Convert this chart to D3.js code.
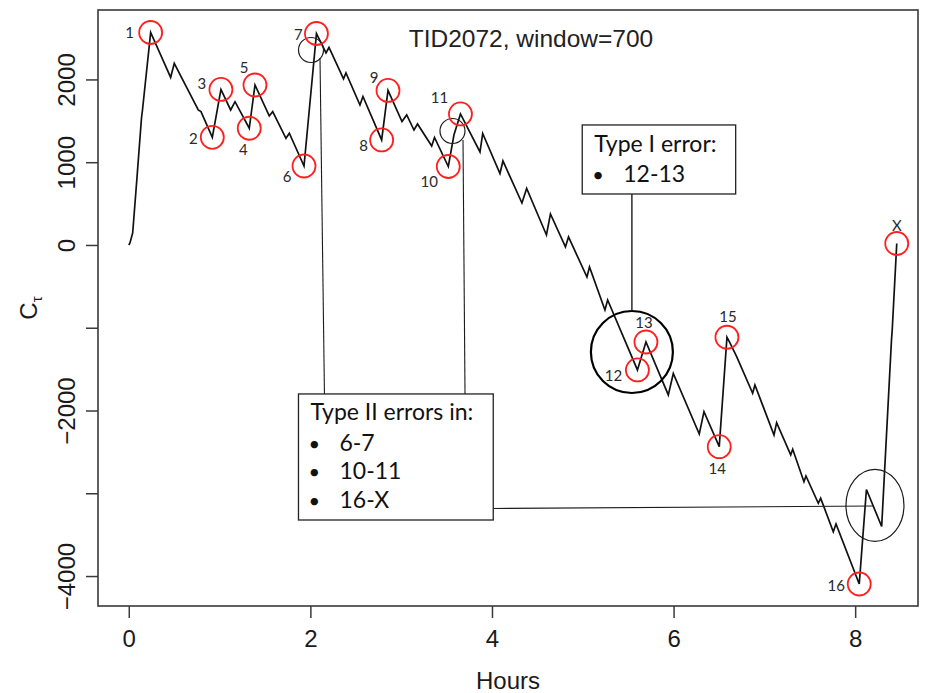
<!DOCTYPE html>
<html>
<head>
<meta charset="utf-8">
<script src="https://cdn.jsdelivr.net/npm/d3@7"></script>
<style>
  body { margin: 0; background: #fff; }
  svg { display: block; }
</style>
</head>
<body>
<svg id="chart" width="926" height="693"></svg>
<script>
// C_tau series for TID2072 (window = 700), sampled at its turning points
const hours = [
  0, 0.013, 0.043, 0.09, 0.14, 0.151, 0.241,
  0.461, 0.501, 0.765, 0.795, 0.92, 1.015, 1.122, 1.17, 1.327, 1.39,
  1.547, 1.585, 1.731, 1.768, 1.93, 2.067, 2.172, 2.205, 2.365, 2.392,
  2.546, 2.579, 2.785, 2.855, 3.009, 3.061, 3.141, 3.18, 3.336, 3.367,
  3.519, 3.581, 3.653, 3.868, 3.898, 4.088, 4.121, 4.33, 4.382, 4.6,
  4.644, 4.809, 4.843, 5.046, 5.074, 5.244, 5.274, 5.602, 5.696, 5.942,
  5.997, 6.283, 6.335, 6.503, 6.588, 6.621, 6.695, 6.871, 6.896, 7.106,
  7.135, 7.29, 7.312, 7.436, 7.458, 7.594, 7.62, 7.759, 7.789, 8.045,
  8.124, 8.292, 8.4, 8.408, 8.458
];
const ctau = [
  0, 24, 145, 809, 1534, 1631, 2567,
  2024, 2193, 1631, 1611, 1301, 1879, 1631, 1731, 1410, 1933,
  1559, 1611, 1289, 1350, 954, 2555, 2320, 2386, 2006, 2078,
  1691, 1794, 1269, 1867, 1492, 1571, 1389, 1462, 1196, 1299,
  948, 1329, 1583, 1124, 1347, 864, 1015, 507, 683, 121,
  375, -24, 97, -387, -266, -785, -665, -1510, -1172, -1812,
  -1553, -2284, -2014, -2437, -1115, -1184, -1350, -1792, -1691, -2296,
  -2147, -2537, -2468, -2860, -2791, -3121, -3060, -3464, -3371, -4096,
  -2954, -3401, -1148, -1027, 18
];

// numbered turning points (index into the series) and their names
const turnIndex  = [6, 11, 12, 15, 16, 21, 22, 29, 30, 37, 39, 54, 55, 60, 61, 76, 81];
const turnLabels = ["1","2","3","4","5","6","7","8","9","10","11","12","13","14","15","16","X"];

const xTicks = [0, 2, 4, 6, 8];
const yTicks = [2000, 1000, 0, -1000, -2000, -3000, -4000];
const yTickLabels = ["2000", "1000", "0", "", "\u22122000", "", "\u22124000"];

const titleText = "TID2072, window=700";
const typeOneLines = ["Type I error:", "12-13"];
const typeTwoLines = ["Type II errors in:", "6-7", "10-11", "16-X"];

// ---- layout ----
const W = 926, H = 693;
const plot = { left: 98, right: 918, top: 10, bottom: 606 };

const x = d3.scaleLinear().domain([-0.339, 8.692]).range([plot.left, plot.right]);
const y = d3.scaleLinear().domain([-4362, 2839]).range([plot.bottom, plot.top]);

// label offsets (px) around each numbered point
const labelOffset = {
  "1": [-21, 0], "2": [-19, 1], "3": [-19, -6], "4": [-6, 21], "5": [-11, -17],
  "6": [-17, 11], "7": [-18, 1], "8": [-18, 6], "9": [-14, -13], "10": [-19, 15],
  "11": [-21, -16], "12": [-24, 6], "13": [-2, -19], "14": [-2, 22], "15": [1, -21],
  "16": [-23, 2], "X": [0, -18]
};

const svg = d3.select("#chart");
const axisFont = "'Liberation Sans', Arial, Helvetica, sans-serif";
const noteFont = "Lato, 'Open Sans', sans-serif";
const frameColor = "#3a3a3a";

// ---- axes ----
const xAxis = svg.append("g")
  .attr("transform", `translate(0,${plot.bottom})`)
  .call(d3.axisBottom(x).tickValues(xTicks).tickSize(12).tickPadding(12).tickFormat(d3.format("d")));
xAxis.select(".domain").remove();
xAxis.selectAll("line").attr("stroke", frameColor).attr("stroke-width", 1.5);
xAxis.selectAll("text")
  .attr("font-family", axisFont).attr("font-size", 24).attr("fill", "#1a1a1a");

const yAxis = svg.append("g")
  .attr("transform", `translate(${plot.left},0)`)
  .call(d3.axisLeft(y).tickValues(yTicks).tickSize(12).tickFormat((d, i) => yTickLabels[i]));
yAxis.select(".domain").remove();
yAxis.selectAll("line").attr("stroke", frameColor).attr("stroke-width", 1.5);
yAxis.selectAll("text")
  .attr("x", null).attr("dy", null)
  .attr("text-anchor", "middle")
  .attr("transform", "translate(-23,0) rotate(-90)")
  .attr("font-family", axisFont).attr("font-size", 24).attr("fill", "#1a1a1a");

// frame
svg.append("rect")
  .attr("x", plot.left).attr("y", plot.top)
  .attr("width", plot.right - plot.left).attr("height", plot.bottom - plot.top)
  .attr("fill", "none").attr("stroke", frameColor).attr("stroke-width", 1.6);

// axis titles
svg.append("text")
  .attr("x", (plot.left + plot.right) / 2).attr("y", 689)
  .attr("text-anchor", "middle")
  .attr("font-family", axisFont).attr("font-size", 24).attr("fill", "#1a1a1a")
  .text("Hours");

const yl = svg.append("text")
  .attr("transform", `translate(37,${(plot.top + plot.bottom) / 2}) rotate(-90)`)
  .attr("text-anchor", "middle")
  .attr("font-family", axisFont).attr("font-size", 24).attr("fill", "#1a1a1a");
yl.append("tspan").text("C");
yl.append("tspan").attr("font-size", 15).attr("dy", 5).text("\u03c4");

// title
svg.append("text")
  .attr("x", 531).attr("y", 47)
  .attr("text-anchor", "middle")
  .attr("font-family", axisFont).attr("font-size", 24.5).attr("fill", "#222")
  .text(titleText);

// ---- series ----
const series = hours.map((h, i) => ({ h, v: ctau[i] }));
svg.append("path")
  .datum(series)
  .attr("fill", "none")
  .attr("stroke", "#111")
  .attr("stroke-width", 1.7)
  .attr("stroke-linejoin", "miter")
  .attr("d", d3.line().x(d => x(d.h)).y(d => y(d.v)));

// ---- annotation layer ----
const ink = "#1c1c1c";

// circles around the misclassified segments
svg.append("circle").attr("cx", x(2.007)).attr("cy", y(2356)).attr("r", 12.5)
  .attr("fill", "none").attr("stroke", ink).attr("stroke-width", 1.2);
svg.append("circle").attr("cx", x(3.565)).attr("cy", y(1377)).attr("r", 12.5)
  .attr("fill", "none").attr("stroke", ink).attr("stroke-width", 1.2);
svg.append("circle").attr("cx", x(5.541)).attr("cy", y(-1293)).attr("r", 41)
  .attr("fill", "none").attr("stroke", "#000").attr("stroke-width", 2.2);
svg.append("ellipse").attr("cx", x(8.218)).attr("cy", y(-3147)).attr("rx", 29).attr("ry", 36)
  .attr("fill", "none").attr("stroke", ink).attr("stroke-width", 1.2);

// connector lines
const connectors = [
  [[2.106, 2259], [2.155, -1800]],
  [[3.681, 1269], [3.703, -1800]],
  [[5.541, 616], [5.541, -801]],
  [[4.014, -3184], [8.20, -3154]]
];
connectors.forEach(([a, b], i) => {
  svg.append("line")
    .attr("x1", x(a[0])).attr("y1", y(a[1]))
    .attr("x2", x(b[0])).attr("y2", y(b[1]))
    .attr("stroke", ink).attr("stroke-width", i === 2 ? 1.4 : 1.1);
});

// text boxes
function noteBox(h0, v0, h1, v1, lines, firstBase, step, textDx) {
  const bx = x(h0), by = y(v0), bw = x(h1) - x(h0), bh = y(v1) - y(v0);
  const g = svg.append("g");
  g.append("rect").attr("x", bx).attr("y", by).attr("width", bw).attr("height", bh)
    .attr("fill", "#fff").attr("stroke", "#222").attr("stroke-width", 1.3);
  g.append("text").attr("x", bx + 12).attr("y", by + firstBase)
    .attr("font-family", noteFont).attr("font-size", 23).attr("fill", "#111")
    .text(lines[0]);
  lines.slice(1).forEach((t, i) => {
    const base = by + firstBase + step[i];
    g.append("text").attr("x", bx + 10).attr("y", base)
      .attr("font-family", noteFont).attr("font-size", 20).attr("fill", "#111").text("\u2022");
    g.append("text").attr("x", bx + textDx).attr("y", base)
      .attr("font-family", noteFont).attr("font-size", 23).attr("fill", "#111").text(t);
  });
}
noteBox(4.994, 1450, 6.684, 616, typeOneLines, 27, [30], 41);
noteBox(1.869, -1800, 4.014, -3323, typeTwoLines, 26, [31, 59, 88], 41);

// numbered turning points
const marks = svg.append("g");
turnIndex.forEach((idx, k) => {
  const cx = x(hours[idx]), cy = y(ctau[idx]);
  marks.append("circle").attr("cx", cx).attr("cy", cy).attr("r", 11.5)
    .attr("fill", "none").attr("stroke", "#ff1f1f").attr("stroke-width", 1.8);
  const off = labelOffset[turnLabels[k]];
  marks.append("text")
    .attr("x", cx + off[0]).attr("y", cy + off[1]).attr("dy", "0.35em")
    .attr("text-anchor", "middle")
    .attr("font-family", noteFont).attr("font-size", 15).attr("fill", "#2a2a2a")
    .text(turnLabels[k]);
});
</script>
</body>
</html>
